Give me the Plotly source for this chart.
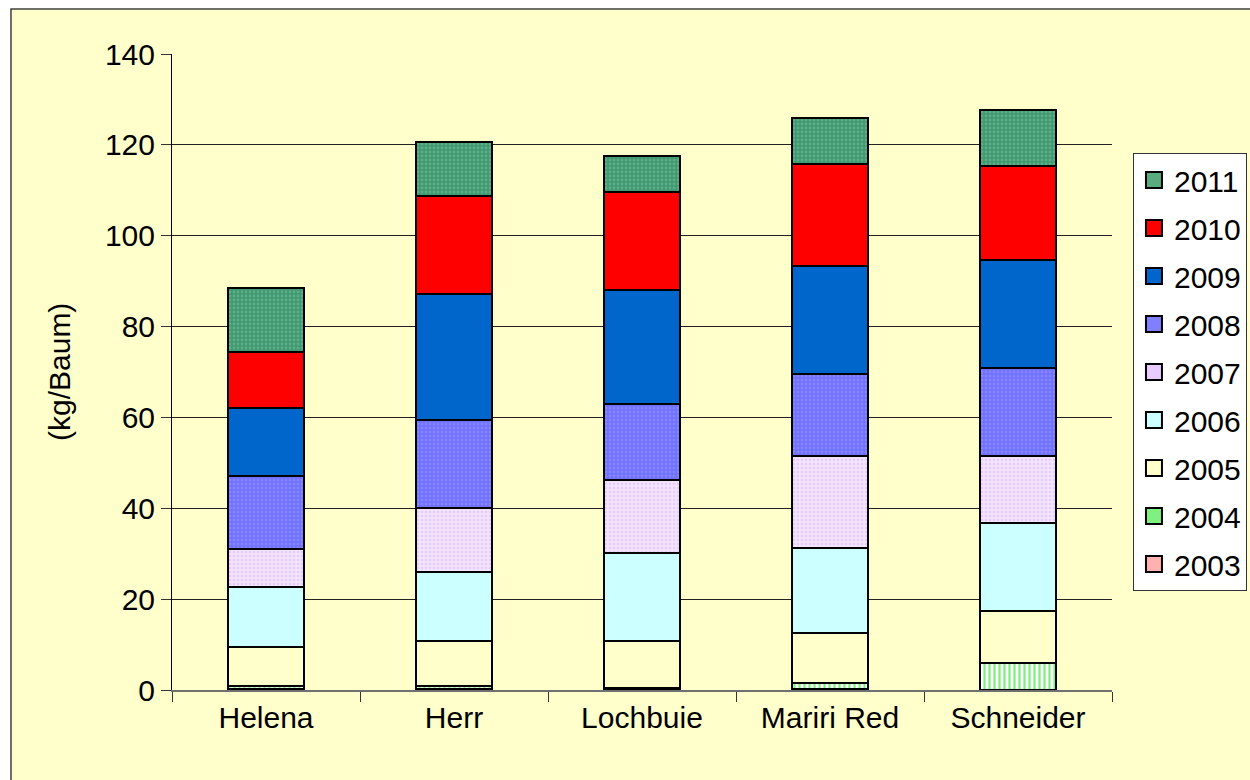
import plotly.graph_objects as go

varieties = ["Helena", "Herr", "Lochbuie", "Mariri Red", "Schneider"]
years = ["2003", "2004", "2005", "2006", "2007", "2008", "2009", "2010", "2011"]

# yield per year (kg/Baum), one list per year, in variety order
y2003 = [0.2, 0.2, 0.1, 0.2, 0.0]
y2004 = [0.7, 0.7, 0.3, 1.3, 5.9]
y2005 = [8.6, 9.9, 10.4, 11.0, 11.5]
y2006 = [13.2, 15.2, 19.4, 18.8, 19.4]
y2007 = [8.3, 14.1, 16.0, 20.2, 14.7]
y2008 = [16.1, 19.3, 16.8, 18.1, 19.4]
y2009 = [15.0, 27.8, 25.0, 23.7, 23.8]
y2010 = [12.3, 21.5, 21.6, 22.5, 20.6]
y2011 = [14.1, 11.9, 7.9, 10.1, 12.4]

series = [y2003, y2004, y2005, y2006, y2007, y2008, y2009, y2010, y2011]

# (bgcolor, fgcolor, pattern shape, pattern size, solidity, legend swatch colour)
styles = {
    "2003": ("#FFFFFF", "#FF6666", ".", 4, 0.5, "#FFB0B0"),
    "2004": ("#FFFFFF", "#00DD00", "|", 5, 0.45, "#80F080"),
    "2005": ("#FFFFCC", None, "", 4, 0, "#FFFFCC"),
    "2006": ("#CCFFFF", None, "", 4, 0, "#CCFFFF"),
    "2007": ("#F4E6FF", "#D9B3FF", ".", 4, 0.4, "#E8CCFF"),
    "2008": ("#7070FF", "#9A9AFF", ".", 4, 0.4, "#7F7FFF"),
    "2009": ("#0066CC", None, "", 4, 0, "#0066CC"),
    "2010": ("#FF0000", None, "", 4, 0, "#FF0000"),
    "2011": ("#3F9970", "#7FBF9F", ".", 4, 0.4, "#5AAA80"),
}

FONT = "Liberation Sans, Arial, sans-serif"

fig = go.Figure()
for i, (year, vals) in enumerate(zip(years, series)):
    bg, fg, shape, psize, sol, swatch = styles[year]
    pattern = dict(shape=shape)
    if fg:
        pattern.update(fgcolor=fg, bgcolor=bg, size=psize, solidity=sol, fillmode="overlay")
    fig.add_trace(
        go.Bar(
            x=varieties,
            y=vals,
            name=year,
            legendgroup=year,
            showlegend=False,
            marker=dict(color=bg, line=dict(color="black", width=2), pattern=pattern),
        )
    )
    # legend swatch (bigger square than the bar legend symbol)
    fig.add_trace(
        go.Scatter(
            x=[varieties[0]],
            y=[None],
            mode="markers",
            name=year,
            legendgroup=year,
            legendrank=100 - i,
            marker=dict(symbol="square", size=16, color=swatch,
                        line=dict(color="black", width=2)),
            hoverinfo="skip",
        )
    )

# outer chart frame
fig.add_shape(
    type="rect", xref="paper", yref="paper",
    x0=-0.1713, x1=1.2, y0=-0.3, y1=1.0708,
    fillcolor="#FFFFCC", line=dict(color="#404040", width=1.5), layer="below",
)

fig.add_annotation(
    text="(kg/Baum)", textangle=-90,
    xref="paper", yref="paper", x=-0.1202, y=0.5,
    xanchor="center", yanchor="middle", showarrow=False,
    font=dict(size=30),
)

fig.update_layout(
    barmode="stack",
    bargap=0.596,
    width=1250,
    height=780,
    margin=dict(l=172, r=138, t=54, b=90, autoexpand=False),
    paper_bgcolor="white",
    plot_bgcolor="#CCFFFF",
    font=dict(family=FONT, size=30, color="black"),
    showlegend=True,
    legend=dict(
        x=1.0223, y=0.8443, xanchor="left", yanchor="top",
        traceorder="grouped",
        tracegroupgap=6,
        bgcolor="white",
        bordercolor="#333333",
        borderwidth=1,
        font=dict(size=30),
    ),
    xaxis=dict(
        automargin=False,
        showline=True, linecolor="#707070", linewidth=1.5,
        ticks="outside", tickson="boundaries", ticklen=10, tickcolor="#333333",
        showgrid=False,
    ),
    yaxis=dict(
        automargin=False,
        range=[0, 140], dtick=20,
        showgrid=True, gridcolor="#222222", gridwidth=1,
        zeroline=False,
        showline=True, linecolor="black", linewidth=1,
        ticks="outside", ticklen=10, tickcolor="#333333",
    ),
)

# page has a default 8px body margin; drop it so the figure fills the window
fig.write_html(
    "out.html",
    config={"displayModeBar": False},
    post_script="document.body.style.margin='0';document.body.style.overflow='hidden';",
)
